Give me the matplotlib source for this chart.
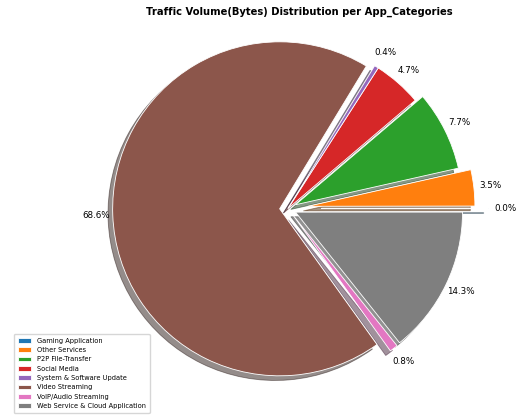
import matplotlib
matplotlib.use("Agg")
import matplotlib.pyplot as plt

categories = ["Gaming Application", "Other Services", "P2P File-Transfer", "Social Media",
              "System & Software Update", "Video Streaming", "VoIP/Audio Streaming",
              "Web Service & Cloud Application"]
values = [0.02, 3.5, 7.7, 4.7, 0.4, 68.6, 0.8, 14.3]
explode = [0.2, 0.12, 0.05, 0.0, 0.0, 0.05, 0.05, 0.05]
colors = ["#1f77b4", "#ff7f0e", "#2ca02c", "#d62728", "#9467bd", "#8c564b", "#e377c2", "#7f7f7f"]

W, H = 518, 416
fig = plt.figure(figsize=(W / 100, H / 100), dpi=100)
ax = fig.add_axes([0, 0, 1, 1])
wedges, texts, autotexts = ax.pie(values, explode=explode, colors=colors, autopct="%1.1f%%",
                                  pctdistance=1.1, shadow=True, startangle=0,
                                  wedgeprops={"edgecolor": "white", "linewidth": 0.6},
                                  textprops={"fontsize": 6.3})
r = 167.0
cx, cy = 288, 208.5
ax.set_xlim(-cx / r, (W - cx) / r)
ax.set_ylim(-(H - cy) / r, cy / r)
ax.set_aspect("auto")
ax.axis("off")
fig.text(299 / W, 1 - 12 / H, "Traffic Volume(Bytes) Distribution per App_Categories",
         ha="center", va="center", fontsize=7.2, fontweight="bold")
fig.legend(wedges, categories, loc="lower left", bbox_to_anchor=(14 / W, 3 / H),
           borderaxespad=0, fontsize=4.8, frameon=True, handlelength=2.0, borderpad=0.6)
fig.savefig("out.png", dpi=100)
